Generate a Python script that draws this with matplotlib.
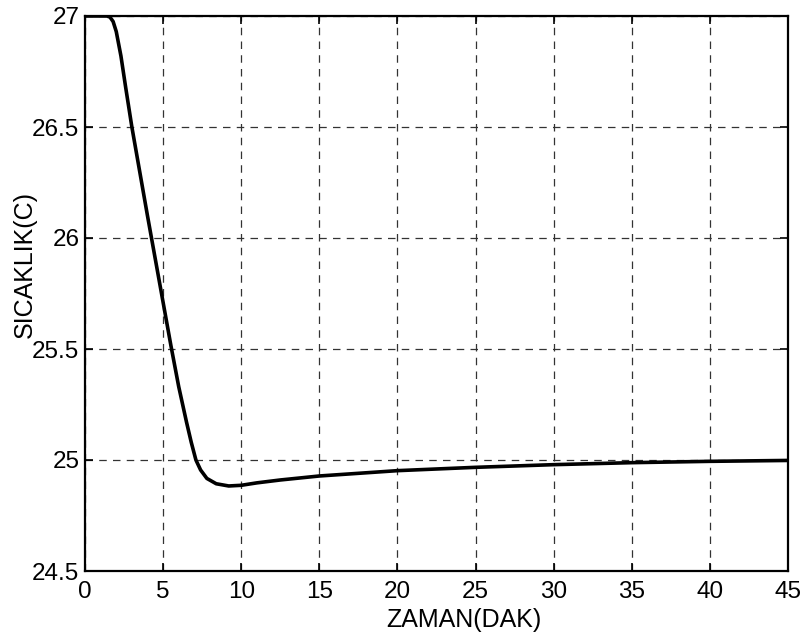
import matplotlib
matplotlib.use("Agg")
import matplotlib.pyplot as plt

# Data
time_min = [0, 1.0, 1.4, 1.6, 1.8, 2.0, 2.3, 2.6, 3.0, 3.5, 4.0, 4.5, 5.0, 5.5,
            6.0, 6.5, 6.8, 7.1, 7.4, 7.8, 8.4, 9.2, 10, 11, 12.5, 15, 17.5, 20,
            25, 30, 35, 40, 45]
temp_c = [27.0, 27.0, 27.0, 26.995, 26.975, 26.93, 26.82, 26.68, 26.50, 26.30,
          26.10, 25.905, 25.71, 25.515, 25.33, 25.17, 25.08, 25.0, 24.955, 24.917,
          24.893, 24.883, 24.886, 24.897, 24.91, 24.928, 24.94, 24.952,
          24.967, 24.979, 24.988, 24.994, 24.998]
x_ticks = [0, 5, 10, 15, 20, 25, 30, 35, 40, 45]
y_ticks = [24.5, 25, 25.5, 26, 26.5, 27]
y_tick_labels = ["24.5", "25", "25.5", "26", "26.5", "27"]

plt.rcParams['font.family'] = ['Liberation Sans', 'DejaVu Sans']

fig = plt.figure(figsize=(8.07, 6.42), dpi=100)
ax = fig.add_axes([85/807, 1-571/642, (788-85)/807, (571-16)/642])

ax.plot(time_min, temp_c, color='black', lw=2.6, solid_joinstyle='round',
        solid_capstyle='round', zorder=3)

ax.set_xlim(0, 45)
ax.set_ylim(24.5, 27)
ax.set_xticks(x_ticks)
ax.set_yticks(y_ticks)
ax.set_yticklabels(y_tick_labels)

ax.grid(True, color='#333333', linestyle=(0, (6, 5)), linewidth=0.9)
ax.tick_params(direction='in', length=5.5, width=1.2, top=True, right=True,
               labelsize=17.5, colors='black')
ax.tick_params(axis='x', pad=7)
ax.tick_params(axis='y', pad=4)
for sp in ax.spines.values():
    sp.set_linewidth(1.6)
    sp.set_color('black')

ax.set_xlabel('ZAMAN(DAK)', fontsize=18, va='center')
ax.xaxis.set_label_coords((464-85)/703, (571-620)/555)
ax.set_ylabel('SICAKLIK(C)', fontsize=18, va='center')
ax.yaxis.set_label_coords((25-85)/703, (571-265)/555)

fig.savefig('out.png', dpi=100)
